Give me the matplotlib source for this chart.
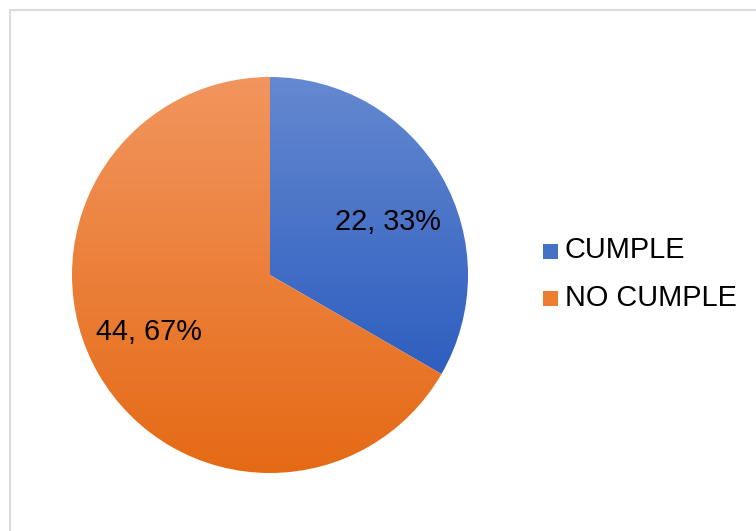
import numpy as np
import matplotlib
matplotlib.use("Agg")
import matplotlib.pyplot as plt
from matplotlib.patches import Rectangle
from matplotlib.colors import LinearSegmentedColormap

plt.rcParams['font.family'] = ['Liberation Sans', 'DejaVu Sans']

categories = ["CUMPLE", "NO CUMPLE"]
values = [22, 44]
percents = ["33%", "67%"]

# (top colour, bottom colour) for the vertical gradient of each slice
grad_colors = [("#6589D0", "#2E5EC0"), ("#F2955E", "#E56A15")]
legend_colors = ["#4472C4", "#ED7D31"]

W, H = 756, 531
fig = plt.figure(figsize=(W / 100, H / 100), dpi=100)
fig.patch.set_facecolor("white")

# light chart frame
fig.add_artist(Rectangle((10 / W, -0.05), 1.2, (H - 10) / H + 0.05,
                         transform=fig.transFigure, fill=False,
                         edgecolor="#D9DDE3", linewidth=1.5))

cx, cy, r = 270, 256, 198
ax = fig.add_axes([(cx - r) / W, (cy - r) / H, 2 * r / W, 2 * r / H])
ax.set_axis_off()

wedges, _ = ax.pie(values, startangle=90, counterclock=False, radius=1,
                   center=(0, 0), frame=False)
ax.set_xlim(-1, 1)
ax.set_ylim(-1, 1)
ax.set_aspect("equal")

for w, (top, bottom) in zip(wedges, grad_colors):
    w.set_facecolor("none")
    w.set_edgecolor("none")
    verts = w.get_path().vertices
    ymin, ymax = verts[:, 1].min(), verts[:, 1].max()
    cmap = LinearSegmentedColormap.from_list("g", [bottom, top])
    grad = np.linspace(0, 1, 256).reshape(-1, 1)
    im = ax.imshow(grad, cmap=cmap, origin="lower", aspect="auto",
                   extent=(-1, 1, ymin, ymax), zorder=1)
    im.set_clip_path(w)

# data labels
label_pos = [(0.597, 0.267), (-0.613, -0.290)]
for (lx, ly), v, p in zip(label_pos, values, percents):
    ax.text(lx, ly, f"{v}, {p}", ha="center", va="center", fontsize=20.8,
            color="black", zorder=3)
ax.set_xlim(-1, 1)
ax.set_ylim(-1, 1)

# legend
leg_y = [251, 298]
sq = 15
for name, col, y in zip(categories, legend_colors, leg_y):
    fig.add_artist(Rectangle((543 / W, (H - y - sq / 2) / H), sq / W, sq / H,
                             transform=fig.transFigure, facecolor=col,
                             edgecolor="none"))
    fig.text(565 / W, (H - y + 0.5) / H, name, ha="left", va="center",
             fontsize=20.8, color="black")

fig.savefig("out.png", dpi=100, facecolor="white")
